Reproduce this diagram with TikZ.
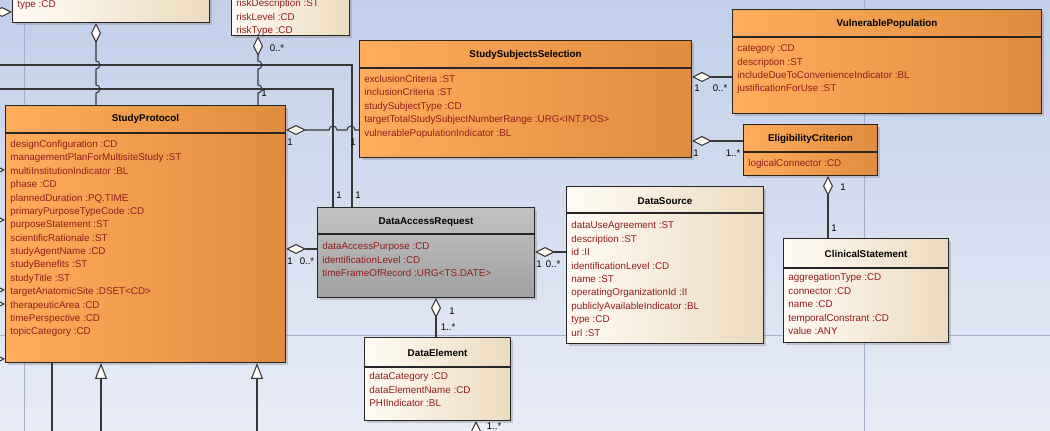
\documentclass[tikz,border=0pt]{standalone}
\usepackage{fontspec}
\setmainfont{Liberation Sans}
\usetikzlibrary{arrows.meta,calc,shadows}
\definecolor{umlorangel}{RGB}{255,172,92}
\definecolor{umloranger}{RGB}{224,140,62}
\definecolor{umlcreaml}{RGB}{255,251,244}
\definecolor{umlcreamr}{RGB}{236,219,190}
\definecolor{umlgrayt}{RGB}{194,194,194}
\definecolor{umlgrayb}{RGB}{160,160,160}
\definecolor{attrred}{RGB}{145,28,28}
\definecolor{linegray}{RGB}{55,55,55}
\definecolor{bgtop}{RGB}{194,207,233}
\definecolor{bgbot}{RGB}{232,236,247}
\definecolor{pageline}{RGB}{165,175,205}

\begin{document}
\begin{tikzpicture}[x=0.02cm, y=-0.02cm,
    cls/.style={draw=black!85, line width=0.6pt, anchor=north west, inner sep=0pt,
        drop shadow={shadow xshift=0.05cm, shadow yshift=-0.05cm, opacity=0.35}},
    orangecls/.style={cls, left color=umlorangel, right color=umloranger},
    creamcls/.style={cls, left color=umlcreaml, right color=umlcreamr},
    graycls/.style={cls, top color=umlgrayt, bottom color=umlgrayb},
    clsname/.style={font=\fontsize{5.6}{7}\selectfont\bfseries, inner sep=0pt},
    clsattr/.style={font=\fontsize{5.6}{7.62}\selectfont, text=attrred, align=left, anchor=north west, inner sep=0pt},
    hdrline/.style={draw=black!85, line width=0.6pt},
    link/.style={draw=linegray, line width=0.6pt},
    agg/.style={link, {Diamond[fill=umlcreaml, length=0.4cm, width=0.2cm]}-},
    gen/.style={link, {Triangle[fill=umlcreaml, length=0.32cm, width=0.24cm]}-},
    mult/.style={font=\fontsize{5.5}{6.5}\selectfont, inner sep=0pt}
]
\useasboundingbox (0,0) rectangle (1050,431);
\clip (0,0) rectangle (1050,431);
\fill[top color=bgtop, bottom color=bgbot] (0,0) rectangle (1050,431);
% page borders
\draw[pageline] (24,0) -- (24,431);
\draw[pageline] (864,0) -- (864,431);
\draw[pageline] (0,335) -- (1050,335);

% classes
\node[creamcls, minimum width=3.94cm, minimum height=1.24cm] (typecls) at (12,-40) {};
\node[clsattr] at ($(typecls.north west)+(5,40.5)$) {type :CD};

\node[creamcls, minimum width=2.36cm, minimum height=1.5cm] (riskcls) at (231,-40) {};
\node[clsattr] at ($(riskcls.north west)+(5,39.5)$) {riskDescription :ST\\riskLevel :CD\\riskType :CD};

\node[orangecls, minimum width=5.6cm, minimum height=5.14cm] (protocol) at (5,105) {};
\node[clsname] at ($(protocol.north)+(0,14)$) {StudyProtocol};
\draw[hdrline] ($(protocol.north west)+(0,28)$) -- ($(protocol.north east)+(0,28)$);
\node[clsattr] at ($(protocol.north west)+(5,35)$) {designConfiguration :CD\\managementPlanForMultisiteStudy :ST\\multiInstitutionIndicator :BL\\phase :CD\\plannedDuration :PQ.TIME\\primaryPurposeTypeCode :CD\\purposeStatement :ST\\scientificRationale :ST\\studyAgentName :CD\\studyBenefits :ST\\studyTitle :ST\\targetAnatomicSite :DSET<CD>\\therapeuticArea :CD\\timePerspective :CD\\topicCategory :CD};

\node[orangecls, minimum width=6.64cm, minimum height=2.34cm] (selection) at (359,40) {};
\node[clsname] at ($(selection.north)+(0,15)$) {StudySubjectsSelection};
\draw[hdrline] ($(selection.north west)+(0,28)$) -- ($(selection.north east)+(0,28)$);
\node[clsattr] at ($(selection.north west)+(5,35)$) {exclusionCriteria :ST\\inclusionCriteria :ST\\studySubjectType :CD\\targetTotalStudySubjectNumberRange :URG<INT.POS>\\vulnerablePopulationIndicator :BL};

\node[orangecls, minimum width=6.18cm, minimum height=2.08cm] (vulnerable) at (732,9) {};
\node[clsname] at ($(vulnerable.north)+(0,15)$) {VulnerablePopulation};
\draw[hdrline] ($(vulnerable.north west)+(0,28)$) -- ($(vulnerable.north east)+(0,28)$);
\node[clsattr] at ($(vulnerable.north west)+(5,35.5)$) {category :CD\\description :ST\\includeDueToConvenienceIndicator :BL\\justificationForUse :ST};

\node[orangecls, minimum width=2.68cm, minimum height=1.02cm] (eligibility) at (743,124) {};
\node[clsname] at ($(eligibility.north)+(0,15)$) {EligibilityCriterion};
\draw[hdrline] ($(eligibility.north west)+(0,28)$) -- ($(eligibility.north east)+(0,28)$);
\node[clsattr] at ($(eligibility.north west)+(5,35)$) {logicalConnector :CD};

\node[creamcls, minimum width=3.3cm, minimum height=2.08cm] (clinical) at (783,238) {};
\node[clsname] at ($(clinical.north)+(0,16)$) {ClinicalStatement};
\draw[hdrline] ($(clinical.north west)+(0,30)$) -- ($(clinical.north east)+(0,30)$);
\node[clsattr] at ($(clinical.north west)+(5,35.5)$) {aggregationType :CD\\connector :CD\\name :CD\\temporalConstrant :CD\\value :ANY};

\node[graycls, minimum width=4.34cm, minimum height=1.8cm] (request) at (317,207) {};
\node[clsname] at ($(request.north)+(0,15)$) {DataAccessRequest};
\draw[hdrline] ($(request.north west)+(0,27)$) -- ($(request.north east)+(0,27)$);
\node[clsattr] at ($(request.north west)+(5,35.5)$) {dataAccessPurpose :CD\\identificationLevel :CD\\timeFrameOfRecord :URG<TS.DATE>};

\node[creamcls, minimum width=3.94cm, minimum height=3.14cm] (source) at (566,186) {};
\node[clsname] at ($(source.north)+(0,15)$) {DataSource};
\draw[hdrline] ($(source.north west)+(0,27)$) -- ($(source.north east)+(0,27)$);
\node[clsattr] at ($(source.north west)+(5,35.5)$) {dataUseAgreement :ST\\description :ST\\id :II\\identificationLevel :CD\\name :ST\\operatingOrganizationId :II\\publiclyAvailableIndicator :BL\\type :CD\\url :ST};

\node[creamcls, minimum width=2.92cm, minimum height=1.66cm] (element) at (364,337) {};
\node[clsname] at ($(element.north)+(0,16)$) {DataElement};
\draw[hdrline] ($(element.north west)+(0,30)$) -- ($(element.north east)+(0,30)$);
\node[clsattr] at ($(element.north west)+(5,35.5)$) {dataCategory :CD\\dataElementName :CD\\PHIIndicator :BL};

% free ends off the sheet
\coordinate (offa) at (-30,65);
\coordinate (offb) at (-30,89);

% connectors
\draw[link] (offa) -- (352,65) -- (request.north -| 352,0);
\draw[link] (offb) -- (333,89) -- (request.north -| 333,0);
\node[mult] at (339,195) {1};
\node[mult] at (358,195) {1};

\draw[agg] (typecls.south -| 96,0) -- (96,61) arc[start angle=90, end angle=-90, radius=0.08cm]
    -- (96,85) arc[start angle=90, end angle=-90, radius=0.08cm] -- (protocol.north -| 96,0);
\draw[agg] (riskcls.south -| 258,0) -- (258,61) arc[start angle=90, end angle=-90, radius=0.08cm]
    -- (258,85) arc[start angle=90, end angle=-90, radius=0.08cm] -- (protocol.north -| 258,0);
\node[mult] at (277,48) {0..*};
\node[mult] at (264,93) {1};

\draw[agg] (protocol.east |- 0,130) -- (329,130) arc[start angle=180, end angle=0, radius=0.08cm]
    -- (347,130) arc[start angle=180, end angle=0, radius=0.08cm] -- (selection.west |- 0,130);
\node[mult] at (290,142) {1};
\node[mult] at (353,142) {1};

\draw[agg] (protocol.east |- 0,249) -- (request.west |- 0,249);
\node[mult] at (290,261) {1};
\node[mult] at (307,261) {0..*};

\draw[agg] (request.east |- 0,252) -- (source.west |- 0,252);
\node[mult] at (539,264) {1};
\node[mult] at (553,264) {0..*};

\draw[agg] (request.south -| 436,0) -- (element.north -| 436,0);
\node[mult] at (452,311) {1};
\node[mult] at (448,327) {1..*};

\draw[agg] (selection.east |- 0,77) -- (vulnerable.west |- 0,77);
\node[mult] at (697,88) {1};
\node[mult] at (720,88) {0..*};

\draw[agg] (selection.east |- 0,141) -- (eligibility.west |- 0,141);
\node[mult] at (696,153) {1};
\node[mult] at (733,153) {1..*};

\draw[agg] (eligibility.south -| 828,0) -- (clinical.north -| 828,0);
\node[mult] at (843,187) {1};
\node[mult] at (834,228) {1};

% links leaving the sheet
\draw[agg] (typecls.west |- 0,12) -- (-30,12);
\foreach \yy in {170,220,290,304,359}
  \draw[agg] (protocol.west |- 0,\yy) -- (-30,\yy);
\draw[link] (protocol.south -| 52,0) -- (52,460);
\draw[gen] (protocol.south -| 101,0) -- (101,460);
\draw[gen] (protocol.south -| 257,0) -- (257,460);
\draw[agg] (element.south -| 476,0) -- (476,460);
\node[mult] at (494,426) {1..*};
\end{tikzpicture}
\end{document}
